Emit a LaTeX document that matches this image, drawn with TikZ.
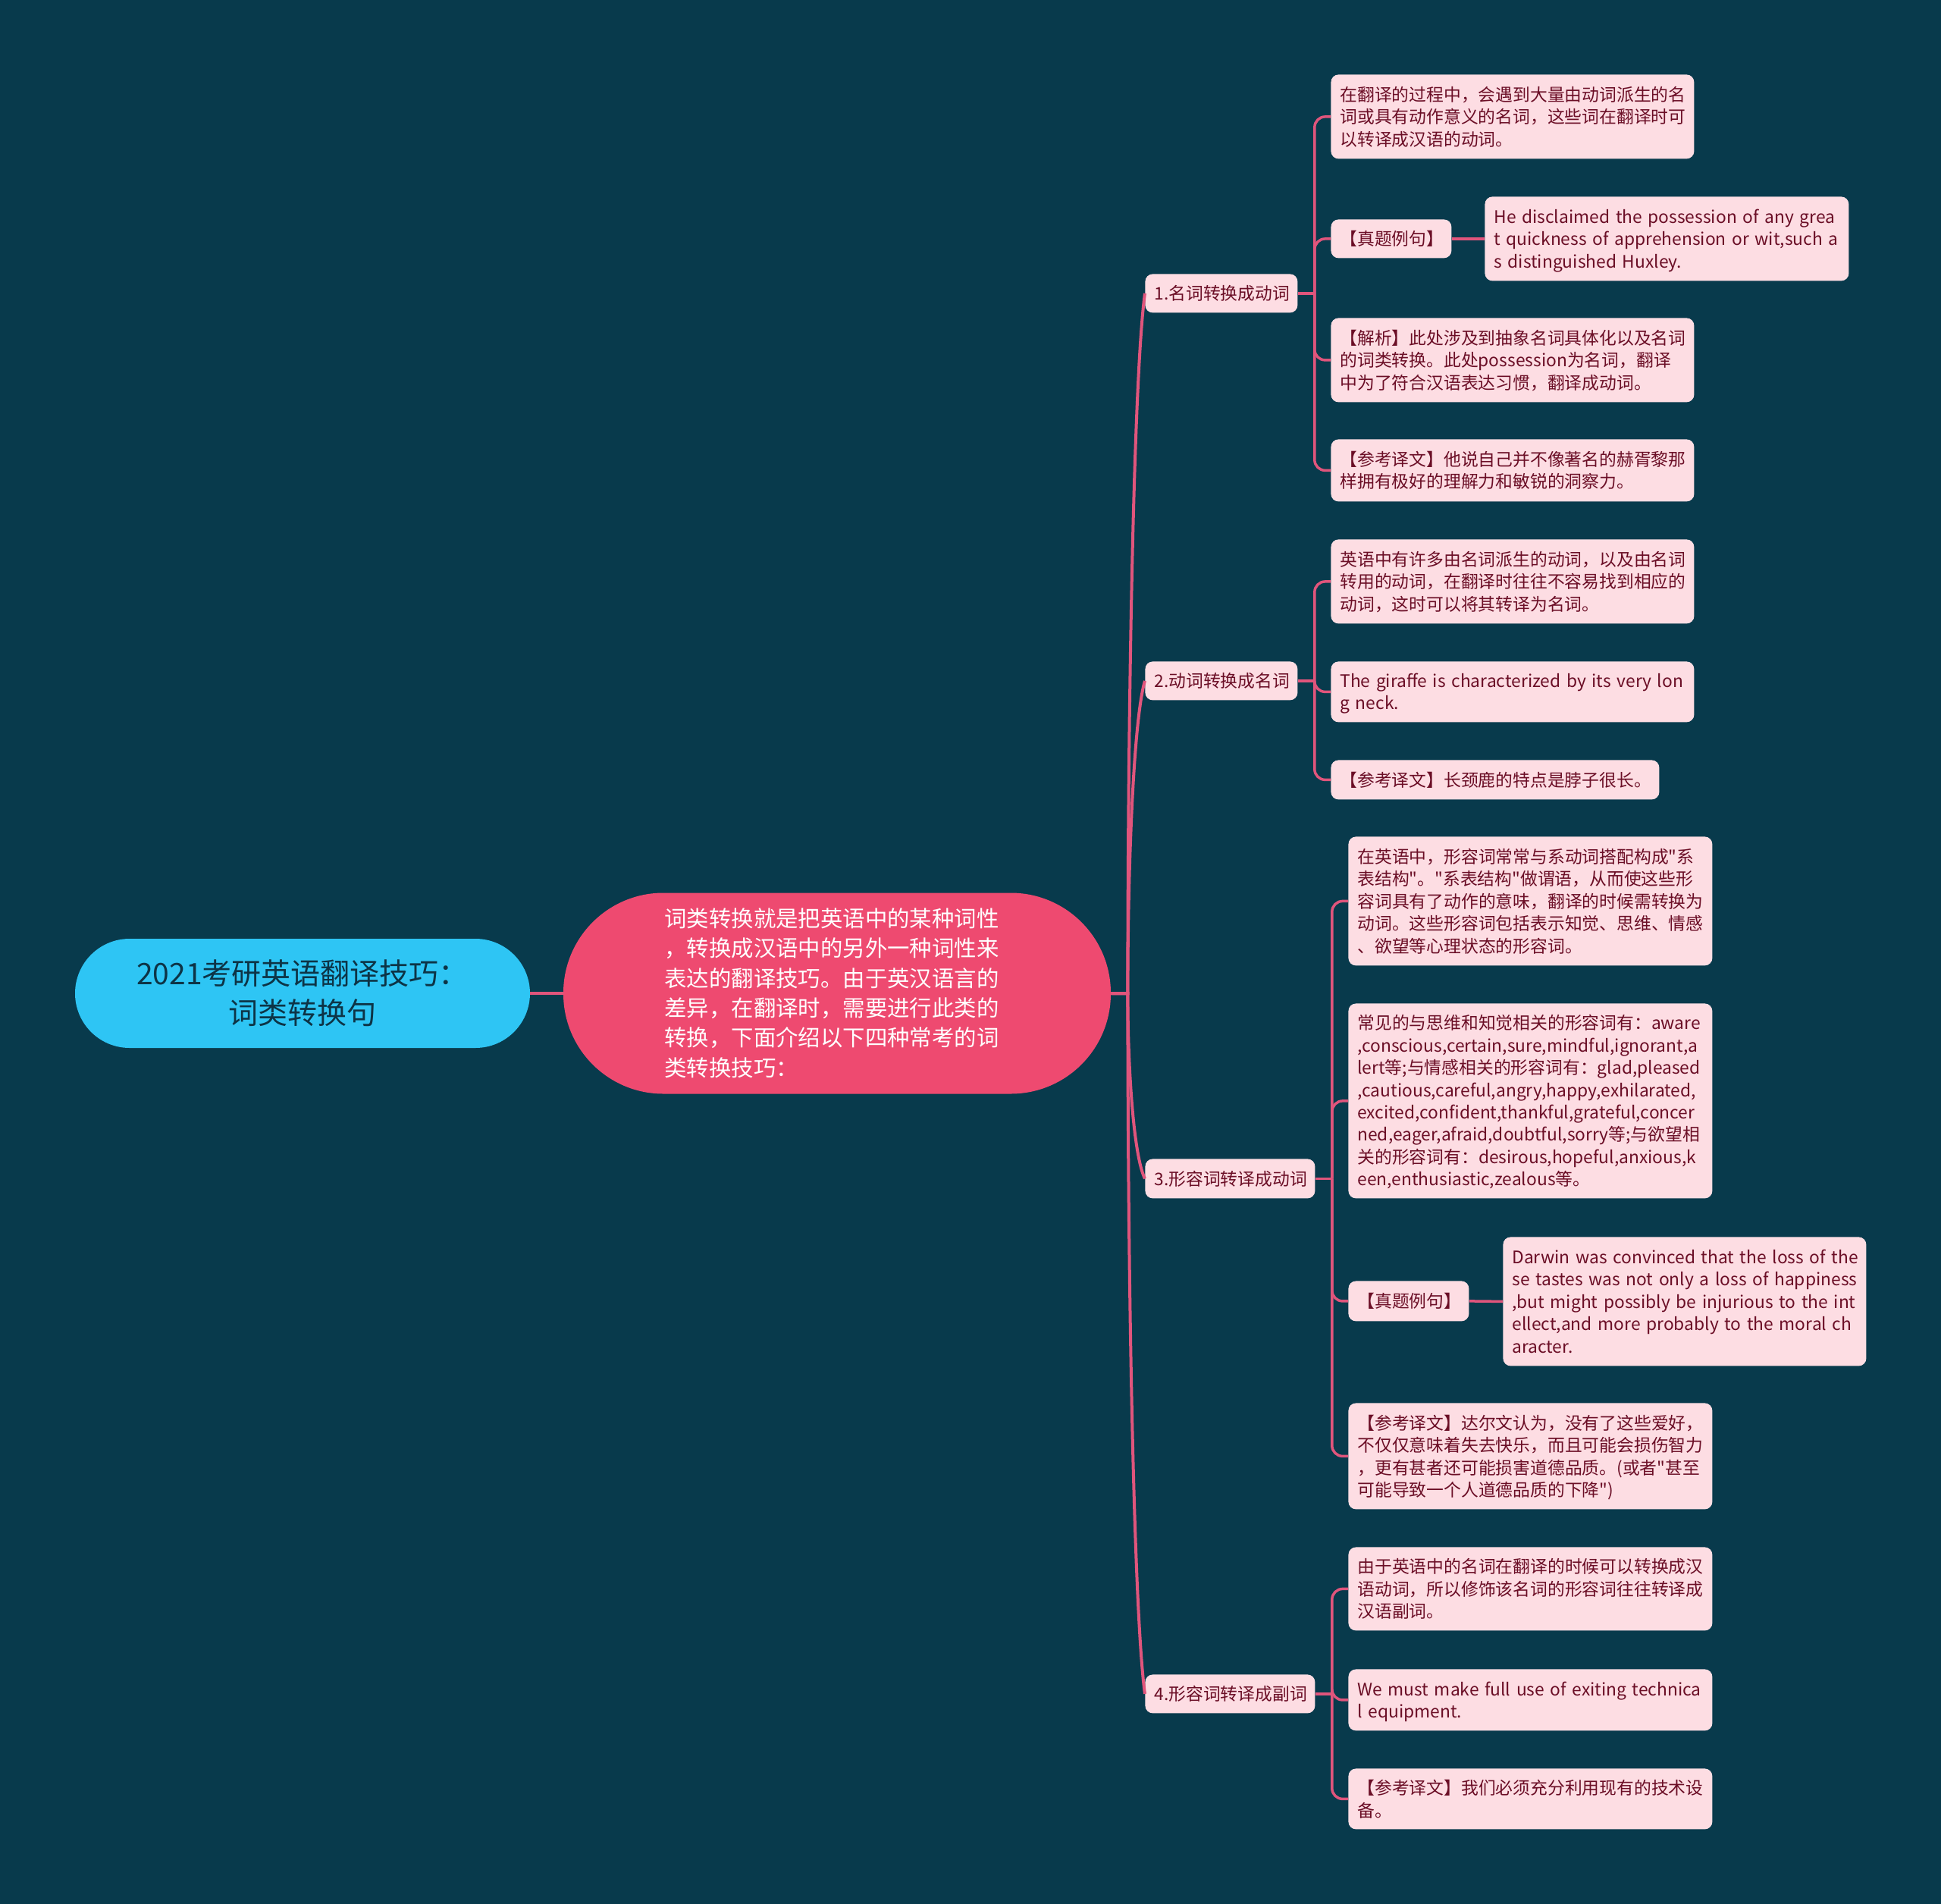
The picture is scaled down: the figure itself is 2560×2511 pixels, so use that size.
\documentclass[tikz,border=0pt]{standalone}
\usepackage{fontspec}
\setmainfont{Noto Sans CJK SC}[Ligatures=TeXOff]
\definecolor{bgteal}{HTML}{083A4C}
\definecolor{rootcyan}{HTML}{2EC5F4}
\definecolor{roottext}{HTML}{0D3446}
\definecolor{introred}{HTML}{EE4A70}
\definecolor{leafpink}{HTML}{FDDDE3}
\definecolor{leaftext}{HTML}{6B0E26}
\definecolor{linepink}{HTML}{E0557C}
\newcommand\linesbox[1]{\raisebox{-1.5pt}[\height][\depth]{\begin{tabular}{@{}l@{}}#1\end{tabular}}}
\newcommand\leafnode[6]{%
  \pgfmathsetmacro\lfW{(#4-#2)*0.5}%
  \pgfmathsetmacro\lfH{(#5-#3)*0.5}%
  \pgfmathsetmacro\lfT{(#4-#2-24)*0.5}%
  \node[leaf, anchor=north west, minimum width=\lfW pt, minimum height=\lfH pt, text width=\lfT pt] (#1) at (#2,#3) {\linesbox{#6}};}
\tikzset{
  leaf/.style={fill=leafpink, draw=none, rounded corners=5pt, text=leaftext,
    font=\fontsize{11.4pt}{14.7pt}\selectfont, inner xsep=6pt, inner ysep=0pt, align=left},
  rootnode/.style={fill=rootcyan, draw=none, rounded corners=36pt, text=roottext,
    font=\fontsize{19.5pt}{26pt}\selectfont, align=center, inner sep=0pt},
  intronode/.style={fill=introred, draw=none, rounded corners=66pt, text=white,
    font=\fontsize{14.7pt}{19.7pt}\selectfont, align=left, inner sep=0pt},
  trunk/.style={draw=linepink, line width=2pt},
  branch/.style={draw=linepink, line width=1.75pt},
}
\begin{document}
\begin{tikzpicture}[x=0.5pt,y=-0.5pt]
\fill[bgteal] (0,0) rectangle (2560,2511);
\useasboundingbox (0,0) rectangle (2560,2511);

% root and intro
\node[rootnode, minimum width=300pt, minimum height=72pt] (root) at (399,1310) {2021考研英语翻译技巧：\\词类转换句};
\node[intronode, minimum width=361pt, minimum height=132.5pt] (intro) at (1104,1310)
  {\linesbox{词类转换就是把英语中的某种词性\\，转换成汉语中的另外一种词性来\\表达的翻译技巧。由于英汉语言的\\差异，在翻译时，需要进行此类的\\转换，下面介绍以下四种常考的词\\类转换技巧：}\hspace{7pt}};

% first level
\leafnode{n1}{1510}{361}{1711}{412}{1.名词转换成动词}
\leafnode{n2}{1510}{872}{1711}{923}{2.动词转换成名词}
\leafnode{n3}{1510}{1528}{1734}{1580}{3.形容词转译成动词}
\leafnode{n4}{1510}{2208}{1734}{2259}{4.形容词转译成副词}

% group 1
\leafnode{l1a}{1755}{98}{2234}{209}{在翻译的过程中，会遇到大量由动词派生的名\\词或具有动作意义的名词，这些词在翻译时可\\以转译成汉语的动词。}
\leafnode{l1b}{1755}{289}{1914}{340}{【真题例句】}
\leafnode{l1c}{1958}{259}{2438}{370}{He disclaimed the possession of any grea\\t quickness of apprehension or wit,such a\\s distinguished Huxley.}
\leafnode{l1d}{1755}{419}{2234}{530}{【解析】此处涉及到抽象名词具体化以及名词\\的词类转换。此处possession为名词，翻译\\中为了符合汉语表达习惯，翻译成动词。}
\leafnode{l1e}{1755}{579}{2234}{661}{【参考译文】他说自己并不像著名的赫胥黎那\\样拥有极好的理解力和敏锐的洞察力。}

% group 2
\leafnode{l2a}{1755}{711}{2234}{822}{英语中有许多由名词派生的动词，以及由名词\\转用的动词，在翻译时往往不容易找到相应的\\动词，这时可以将其转译为名词。}
\leafnode{l2b}{1755}{872}{2234}{952}{The giraffe is characterized by its very lon\\g neck.}
\leafnode{l2c}{1755}{1002}{2188}{1054}{【参考译文】长颈鹿的特点是脖子很长。}

% group 3
\leafnode{l3a}{1778}{1103}{2258}{1273}{在英语中，形容词常常与系动词搭配构成"系\\表结构"。"系表结构"做谓语，从而使这些形\\容词具有了动作的意味，翻译的时候需转换为\\动词。这些形容词包括表示知觉、思维、情感\\、欲望等心理状态的形容词。}
\leafnode{l3b}{1778}{1323}{2258}{1580}{常见的与思维和知觉相关的形容词有：aware\\,conscious,certain,sure,mindful,ignorant,a\\lert等;与情感相关的形容词有：glad,pleased\\,cautious,careful,angry,happy,exhilarated,\\excited,confident,thankful,grateful,concer\\ned,eager,afraid,doubtful,sorry等;与欲望相\\关的形容词有：desirous,hopeful,anxious,k\\een,enthusiastic,zealous等。}
\leafnode{l3c}{1778}{1689}{1937}{1742}{【真题例句】}
\leafnode{l3d}{1982}{1631}{2461}{1801}{Darwin was convinced that the loss of the\\se tastes was not only a loss of happiness\\,but might possibly be injurious to the int\\ellect,and more probably to the moral ch\\aracter.}
\leafnode{l3e}{1778}{1850}{2258}{1990}{【参考译文】达尔文认为，没有了这些爱好，\\不仅仅意味着失去快乐，而且可能会损伤智力\\，更有甚者还可能损害道德品质。(或者"甚至\\可能导致一个人道德品质的下降")}

% group 4
\leafnode{l4a}{1778}{2040}{2258}{2150}{由于英语中的名词在翻译的时候可以转换成汉\\语动词，所以修饰该名词的形容词往往转译成\\汉语副词。}
\leafnode{l4b}{1778}{2201}{2258}{2282}{We must make full use of exiting technica\\l equipment.}
\leafnode{l4c}{1778}{2332}{2258}{2412}{【参考译文】我们必须充分利用现有的技术设\\备。}

% connectors: root to intro
\draw[trunk] (root.east) -- (intro.west);

% connectors: intro to first level
\draw[trunk] (intro.east) -- ++(22,0) .. controls +(0,-370) and +(-15,110) .. (n1.west);
\draw[trunk] (intro.east) -- ++(22,0) .. controls +(0,-165) and +(-15,50) .. (n2.west);
\draw[trunk] (intro.east) -- ++(22,0) .. controls +(0,98) and +(-15,-30) .. (n3.west);
\draw[trunk] (intro.east) -- ++(22,0) .. controls +(0,370) and +(-15,-110) .. (n4.west);

% connectors: group 1
\draw[branch] (n1.east) -- ++(22,0);
\foreach \c in {l1a,l1b,l1d,l1e}
  \draw[branch, rounded corners=7pt] (n1.east) ++(22,0) |- (\c.west);
\draw[branch] (l1b.east) -- (l1c.west);

% connectors: group 2
\draw[branch] (n2.east) -- ++(22,0);
\foreach \c in {l2a,l2b,l2c}
  \draw[branch, rounded corners=7pt] (n2.east) ++(22,0) |- (\c.west);

% connectors: group 3
\draw[branch] (n3.east) -- ++(22,0);
\foreach \c in {l3a,l3b,l3c,l3e}
  \draw[branch, rounded corners=7pt] (n3.east) ++(22,0) |- (\c.west);
\draw[branch] (l3c.east) -- (l3d.west);

% connectors: group 4
\draw[branch] (n4.east) -- ++(22,0);
\foreach \c in {l4a,l4b,l4c}
  \draw[branch, rounded corners=7pt] (n4.east) ++(22,0) |- (\c.west);
\end{tikzpicture}
\end{document}
